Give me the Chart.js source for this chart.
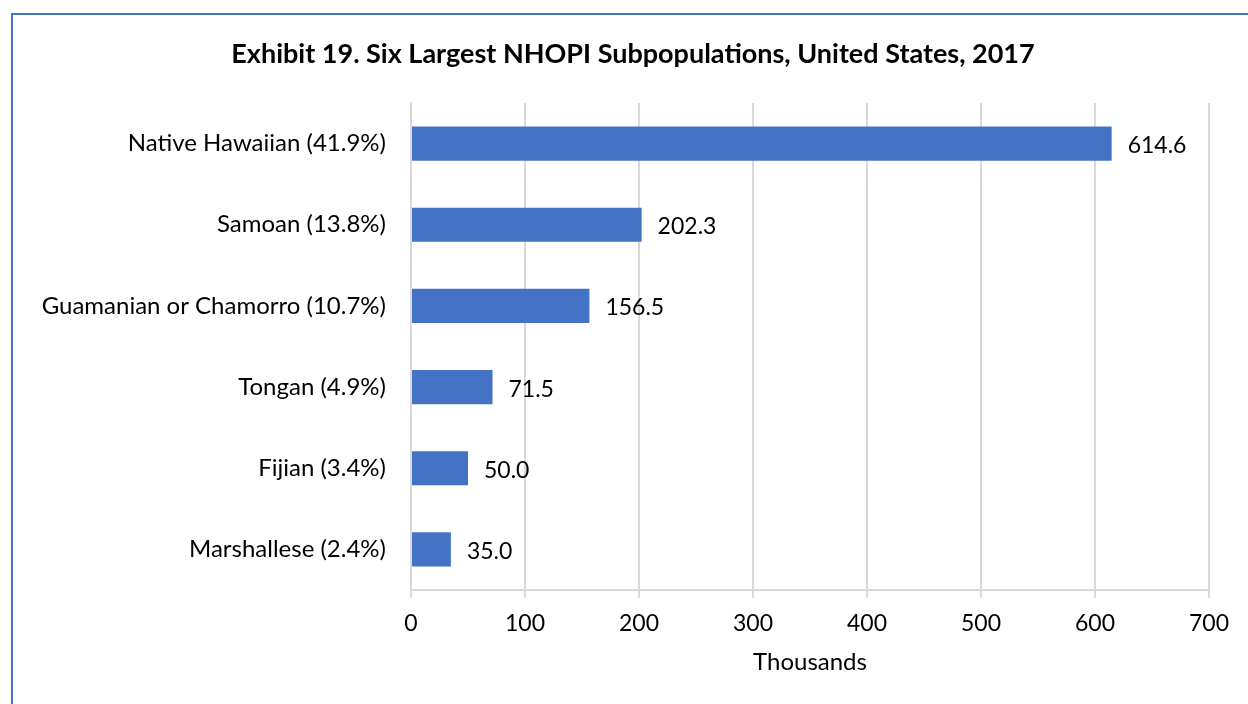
<!DOCTYPE html>
<html>
<head>
<meta charset="utf-8">
<script src="https://cdn.jsdelivr.net/npm/chart.js@4"></script>
<style>
  html, body { margin: 0; padding: 0; background: #fff; }
  #wrap { position: relative; width: 1248px; height: 704px; overflow: hidden; }
  #frame {
    position: absolute; left: 11px; top: 13px; width: 1300px; height: 760px;
    border-left: 2px solid #4472c4; border-top: 2px solid #4472c4;
    pointer-events: none;
  }
</style>
</head>
<body>
<div id="wrap">
  <canvas id="chart" width="1248" height="704"></canvas>
  <div id="frame"></div>
</div>
<script>
// Exhibit 19 — NHOPI subpopulations (thousands), largest at top
const titleText = 'Exhibit 19. Six Largest NHOPI Subpopulations, United States, 2017';
const groups = [
  'Native Hawaiian (41.9%)',
  'Samoan (13.8%)',
  'Guamanian or Chamorro (10.7%)',
  'Tongan (4.9%)',
  'Fijian (3.4%)',
  'Marshallese (2.4%)',
];
const thousands = [614.6, 202.3, 156.5, 71.5, 50.0, 35.0];
const xTicks = [0, 100, 200, 300, 400, 500, 600, 700];

const FONT = 'Lato, "Open Sans", sans-serif';
const GRID = '#d9d9d9';

// value labels just past the end of each bar
const valueLabels = {
  id: 'valueLabels',
  afterDatasetsDraw(chart) {
    const { ctx } = chart;
    const meta = chart.getDatasetMeta(0);
    ctx.save();
    ctx.font = `23px ${FONT}`;
    ctx.fillStyle = '#000';
    ctx.textAlign = 'left';
    ctx.textBaseline = 'middle';
    meta.data.forEach((bar, i) => {
      ctx.fillText(thousands[i].toFixed(1), bar.x + 16, bar.y + 2);
    });
    ctx.restore();
  },
};

// heading sits a little right of the canvas centre, over the whole framed box
const heading = {
  id: 'heading',
  afterDraw(chart) {
    const { ctx } = chart;
    ctx.save();
    ctx.font = `bold 27px ${FONT}`;
    ctx.fillStyle = '#000';
    ctx.textAlign = 'center';
    ctx.textBaseline = 'middle';
    ctx.fillText(titleText, 633, 54);
    ctx.restore();
  },
};

new Chart(document.getElementById('chart'), {
  type: 'bar',
  data: {
    labels: groups,
    datasets: [{
      data: thousands,
      backgroundColor: '#4472c4',
      borderWidth: 0,
      categoryPercentage: 1,
      barPercentage: 0.42,
    }],
  },
  options: {
    indexAxis: 'y',
    responsive: false,
    animation: false,
    layout: { padding: { left: 0, right: 39, top: 103, bottom: 0 } },
    scales: {
      x: {
        min: 0,
        max: 700,
        afterBuildTicks: scale => { scale.ticks = xTicks.map(v => ({ value: v })); },
        afterFit: scale => { scale.height = 114; },
        grid: { color: GRID, lineWidth: 2, tickLength: 8, tickColor: GRID },
        border: { color: GRID, width: 2 },
        ticks: { color: '#000', font: { family: FONT, size: 23 }, padding: 12 },
        title: {
          display: true,
          text: 'Thousands',
          color: '#000',
          font: { family: FONT, size: 24 },
          padding: { top: 4, bottom: 27 },
        },
      },
      y: {
        afterFit: scale => { scale.width = 411; },
        grid: { display: false, drawTicks: false },
        border: { color: GRID, width: 2 },
        ticks: { color: '#000', font: { family: FONT, size: 24 }, padding: 25 },
      },
    },
    plugins: {
      legend: { display: false },
      tooltip: { enabled: false },
      title: { display: false },
    },
  },
  plugins: [valueLabels, heading],
});
</script>
</body>
</html>
